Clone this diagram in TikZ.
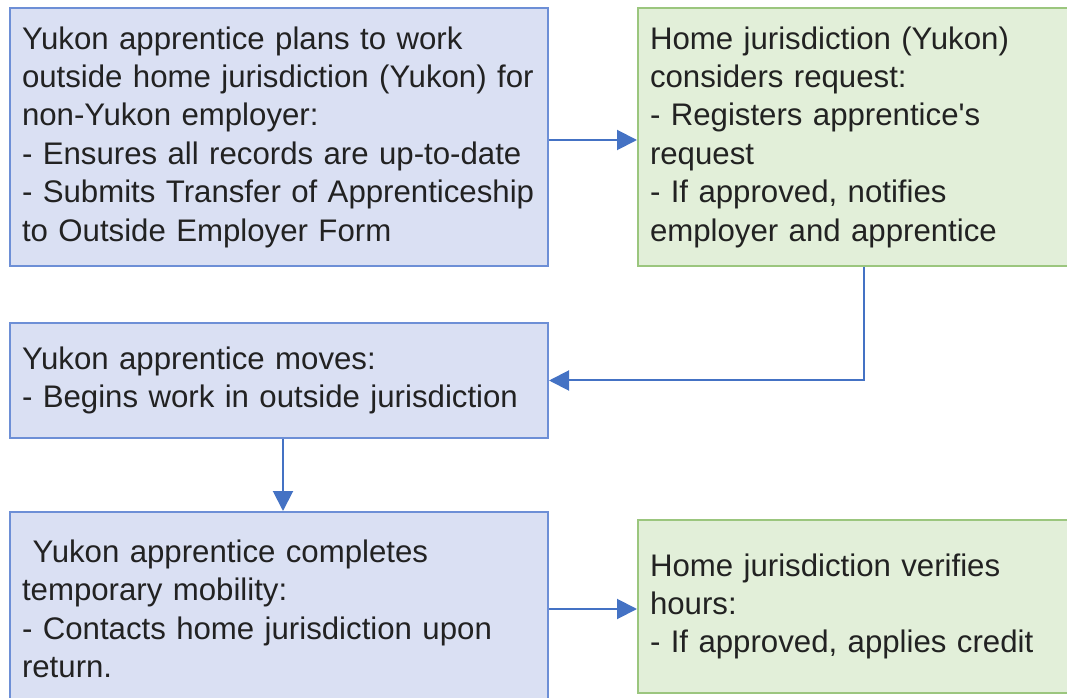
\documentclass[tikz,border=0pt]{standalone}
\usepackage{fontspec}
\setmainfont{Liberation Sans}[Ligatures=TeXOff]
\usetikzlibrary{arrows.meta}
\definecolor{bfill}{HTML}{DAE0F3}
\definecolor{bdraw}{HTML}{6D8FD6}
\definecolor{gfill}{HTML}{E2EFD9}
\definecolor{gdraw}{HTML}{9BC67E}
\definecolor{arrc}{HTML}{4472C4}
\definecolor{txt}{HTML}{222222}
\tikzset{
  boxbase/.style={draw, line width=1.5pt, inner xsep=9pt, inner ysep=2pt, align=left,
    text=txt, font=\fontsize{23.4pt}{28.8pt}\selectfont},
  bluebox/.style={boxbase, fill=bfill, draw=bdraw},
  greenbox/.style={boxbase, fill=gfill, draw=gdraw},
  flow/.style={draw=arrc, line width=1.5pt, -{Triangle[length=15pt,width=15pt]}}
}
\begin{document}
\begin{tikzpicture}[x=0.75pt,y=-0.75pt]
\useasboundingbox (0,0) rectangle (1067,698);
\clip (0,0) rectangle (1067,698);
\node[bluebox, text width=385.5pt, minimum height=193.5pt] (b1) at (279,137)
  {\mbox{Yukon apprentice plans to work}\\\mbox{outside home jurisdiction (Yukon) for}\\\mbox{non-Yukon employer:}\\\mbox{- Ensures all records are up-to-date}\\\mbox{- Submits Transfer of Apprenticeship}\\\mbox{to Outside Employer Form}};
\node[greenbox, text width=321pt, minimum height=193.5pt] (b2) at (864,137)
  {\mbox{Home jurisdiction (Yukon)}\\\mbox{considers request:}\\\mbox{- Registers apprentice's}\\\mbox{request}\\\mbox{- If approved, notifies}\\\mbox{employer and apprentice}};
\node[bluebox, text width=385.5pt, minimum height=86.25pt] (b3) at (279,380.5)
  {\mbox{Yukon apprentice moves:}\\\mbox{- Begins work in outside jurisdiction}};
\node[bluebox, text width=385.5pt, minimum height=145.5pt] (b4) at (279,609)
  {\mbox{\hspace*{8pt}Yukon apprentice completes}\\\mbox{temporary mobility:}\\\mbox{- Contacts home jurisdiction upon}\\\mbox{return.}};
\node[greenbox, text width=321pt, minimum height=129.75pt] (b5) at (864,606.5)
  {\mbox{Home jurisdiction verifies}\\\mbox{hours:}\\\mbox{- If approved, applies credit}};
\draw[flow] ([yshift=-2.25pt]b1.east) -- ([yshift=-2.25pt]b2.west);
\draw[flow] (b2.south) |- (b3.east);
\draw[flow] ([xshift=3pt]b3.south) -- ([xshift=3pt]b4.north);
\draw[flow] (b4.east) -- (b5.west |- b4.east);
\end{tikzpicture}
\end{document}
